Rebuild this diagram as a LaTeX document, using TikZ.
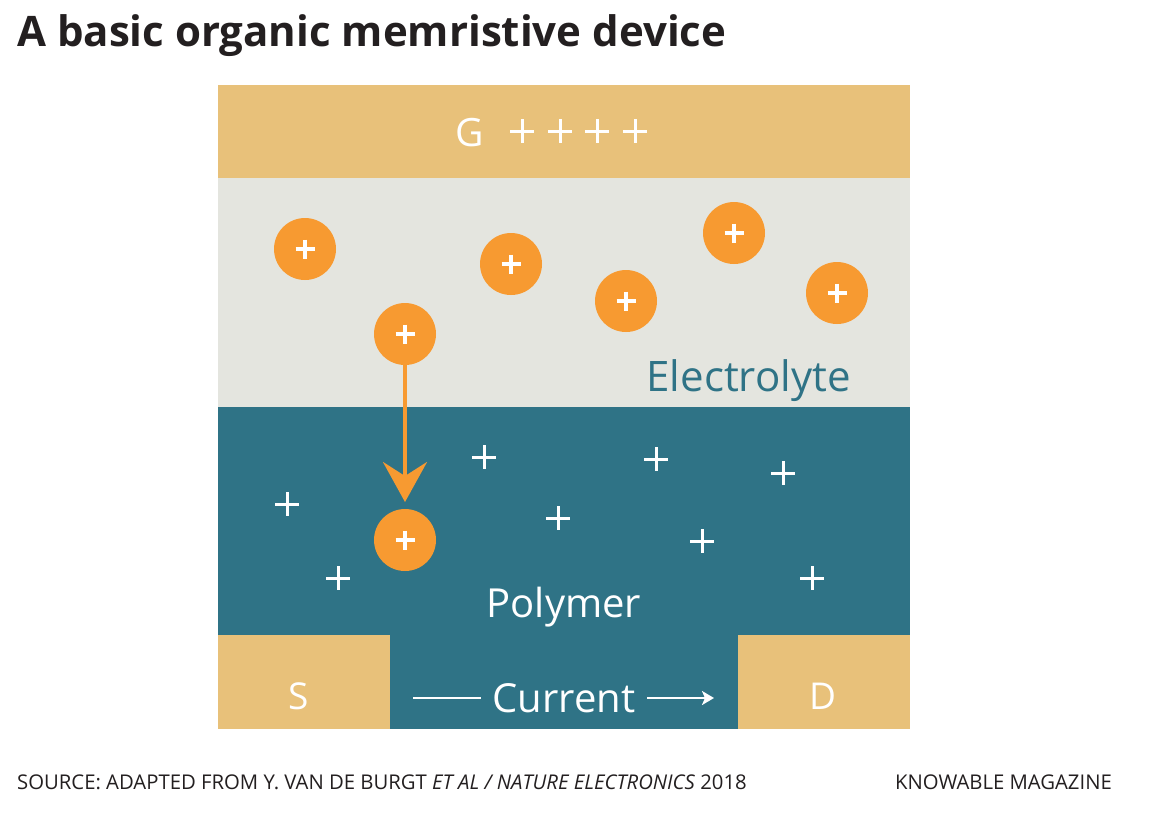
\documentclass[tikz,border=0pt]{standalone}
\usepackage{fontspec}
\setmainfont{Open Sans}
\usetikzlibrary{arrows.meta}
\definecolor{gold}{HTML}{E8C17A}
\definecolor{elec}{HTML}{E4E5DF}
\definecolor{teal}{HTML}{2F7386}
\definecolor{ion}{HTML}{F79A31}
\definecolor{txt}{HTML}{231F20}
\tikzset{
  ionball/.style={circle,fill=ion,minimum size=62pt,inner sep=0pt},
  plusmark/.style={white,line width=3pt},
  lbl/.style={text=white,font=\fontsize{40}{44}\selectfont,inner sep=0pt,anchor=base},
  foot/.style={inner sep=0pt,text=txt,font=\fontsize{20.3}{22}\selectfont},
}
\newcommand{\plusat}[2]{\draw[plusmark] (#1-12,#2) -- (#1+12,#2) (#1,#2-12) -- (#1,#2+12);}
\newcommand{\smallplus}[2]{\draw[white,line width=3.4pt] (#1-9.5,#2) -- (#1+9.5,#2) (#1,#2-9.5) -- (#1,#2+9.5);}
\begin{document}
\begin{tikzpicture}[x=1pt,y=-1pt]
\useasboundingbox (0,0) rectangle (1154,812);
\fill[white] (0,0) rectangle (1154,812);
% layers
\fill[gold] (218,85) rectangle (910,178);
\fill[elec] (218,178) rectangle (910,407);
\fill[teal] (218,407) rectangle (910,729);
\fill[gold] (218,635) rectangle (390,729);
\fill[gold] (738,635) rectangle (910,729);
% title
\node[anchor=base west,inner sep=0pt,text=txt,font=\fontsize{42}{46}\selectfont\bfseries] (title) at (17,46) {A basic organic memristive device};
% gate
\node[lbl,font=\fontsize{39}{42}\selectfont] (G) at (470,146) {G};
\plusat{522}{131}\plusat{560}{131}\plusat{597}{131}\plusat{635}{131}
% ions
\node[ionball] (i1) at (305,249) {};
\node[ionball] (i2) at (511,264) {};
\node[ionball] (i3) at (734,233) {};
\node[ionball] (i4) at (626,301) {};
\node[ionball] (i5) at (837,293) {};
\node[ionball] (i6) at (405,334) {};
\node[ionball] (i7) at (405,540) {};
\foreach \x/\y in {305/249,511/264,734/233,626/301,837/293,405/334,405/540}{\smallplus{\x}{\y}}
% arrow
\coordinate (tip) at (405,502);
\draw[ion,line width=4pt,-{Stealth[length=40pt,width=44pt,inset=14pt]}] (i6.south) -- (tip);
% polymer pluses
\foreach \x/\y in {287/504,338/578,484/457,558/518,656/459,702/541,783/473,812/578}{\plusat{\x}{\y}}
% labels
\node[lbl,text=teal,anchor=base east,font=\fontsize{42}{46}\selectfont] (el) at (851,391) {Electrolyte};
\node[lbl] (poly) at (564,617) {Polymer};
\node[lbl,font=\fontsize{37}{40}\selectfont] (S) at (299,709) {S};
\node[lbl,font=\fontsize{37}{40}\selectfont] (D) at (823,709) {D};
\node[lbl] (cur) at (564,712) {Current};
\coordinate (l1) at (413,698);
\coordinate (l2) at (481,698);
\coordinate (a1) at (647,698);
\coordinate (a2) at (714,698);
\draw[white,line width=2.5pt] (l1) -- (l2);
\draw[white,line width=2.5pt,-{Stealth[length=12pt,width=14pt,inset=3pt]}] (a1) -- (a2);
% footer
\node[foot,anchor=base west] (src) at (17,789) {SOURCE: ADAPTED FROM Y. VAN DE BURGT \textit{ET AL / NATURE ELECTRONICS} 2018};
\node[foot,anchor=base east] (km) at (1112,789) {KNOWABLE MAGAZINE};
\end{tikzpicture}
\end{document}
